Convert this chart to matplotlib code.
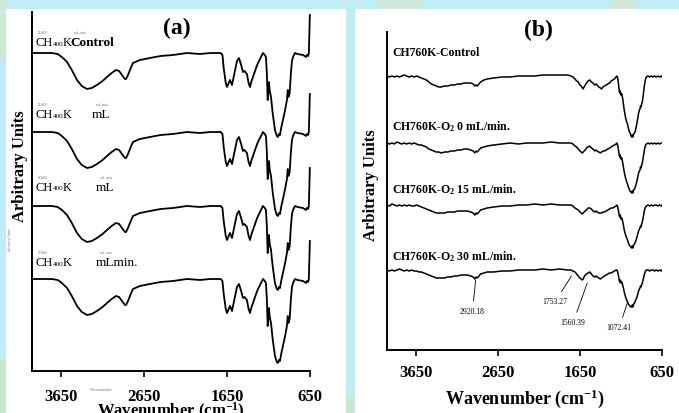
import numpy as np
import matplotlib.pyplot as plt
from matplotlib.patches import Rectangle

plt.rcParams['font.family'] = ['Liberation Serif', 'DejaVu Serif']
plt.rcParams['mathtext.fontset'] = 'custom'
plt.rcParams['mathtext.rm'] = 'Liberation Serif:bold'
plt.rcParams['mathtext.bf'] = 'Liberation Serif:bold'
plt.rcParams['mathtext.default'] = 'rm'

W, H = 679, 413

# ---- data ----
ticks = [3650, 2650, 1650, 650]

# (a) CH400K spectra, all four traces look the same; (wavenumber, depth below baseline)
spec_a = [(4000, 0), (3900, 0), (3760, 0), (3690, 1), (3640, 4), (3578, 9), (3520, 17),
          (3458, 27), (3400, 33), (3337, 36), (3280, 35), (3217, 32), (3150, 28), (3096, 24),
          (3040, 20), (2988, 17), (2950, 18), (2916, 22), (2880, 26), (2867, 26), (2843, 22),
          (2810, 15), (2783, 10), (2700, 7), (2578, 5), (2450, 3), (2301, 2), (2133, 0),
          (1976, 1), (1850, 0), (1771, 0), (1725, 0), (1705, 2), (1690, 15), (1665, 30),
          (1650, 34), (1630, 30), (1614, 27), (1600, 30), (1590, 32), (1560, 20), (1530, 8),
          (1506, 5), (1480, 12), (1458, 19), (1440, 18), (1420, 20), (1410, 21), (1390, 30),
          (1373, 34), (1355, 28), (1337, 24), (1300, 15), (1277, 10), (1240, 4), (1217, 0),
          (1195, 2), (1181, 4), (1170, 20), (1160, 47), (1152, 40), (1145, 29), (1135, 38),
          (1120, 44), (1100, 60), (1072, 77), (1050, 83), (1036, 84), (1024, 81), (1012, 82),
          (995, 74), (976, 67), (950, 57), (928, 47), (918, 37), (910, 44), (895, 40),
          (880, 20), (867, 8), (855, 4), (831, 0), (800, 1), (735, 2), (715, 3), (699, 4),
          (687, 2), (672, 3), (664, 0), (660, -12), (652, -38)]

# (b) CH760K spectra
control_b = [(4000, 0), (3970, 1), (3940, 0), (3910, 1), (3880, 0), (3850, 1), (3820, 0),
             (3790, -1), (3760, 0), (3730, 1), (3700, 0), (3670, 1), (3640, 0), (3610, 1),
             (3580, 2), (3550, 3), (3520, 4), (3490, 6), (3460, 8), (3430, 9), (3400, 10),
             (3370, 11), (3340, 11), (3300, 10), (3260, 10), (3220, 9), (3180, 9), (3140, 8),
             (3100, 8), (3060, 7), (3020, 7), (2980, 7), (2950, 8), (2930, 10), (2915, 9),
             (2900, 10), (2880, 8), (2860, 6), (2820, 4), (2780, 3), (2700, 2), (2600, 1),
             (2500, 1), (2400, 0), (2300, 0), (2200, 0), (2100, -1), (2000, -1), (1900, -1),
             (1800, -1), (1760, 0), (1735, 1), (1710, 3), (1690, 5), (1670, 6), (1650, 9),
             (1635, 10), (1620, 12), (1610, 13), (1600, 11), (1585, 9), (1570, 7), (1550, 5),
             (1530, 4), (1510, 6), (1490, 7), (1470, 9), (1455, 8), (1440, 9), (1420, 11),
             (1400, 12), (1385, 13), (1370, 11), (1350, 10), (1330, 9), (1310, 8), (1290, 7),
             (1270, 5), (1250, 4), (1230, 3), (1210, 1), (1200, 0), (1190, 2), (1180, 8),
             (1172, 14), (1165, 17), (1158, 15), (1150, 19), (1140, 18), (1130, 22), (1120, 28),
             (1110, 34), (1100, 39), (1090, 43), (1080, 46), (1070, 48), (1060, 52), (1050, 55),
             (1040, 57), (1030, 59), (1020, 61), (1012, 59), (1005, 61), (995, 58), (985, 57),
             (975, 55), (965, 51), (955, 47), (945, 42), (935, 37), (925, 34), (918, 33),
             (912, 30), (905, 31), (898, 28), (890, 26), (880, 20), (870, 13), (860, 7),
             (850, 3), (840, 1), (820, 0), (800, 1), (780, 0), (760, 1), (740, 0), (720, 1),
             (700, 0), (680, 1), (660, 0), (650, 1)]

o2_0_b = [(4000, 0), (3970, 1), (3940, 0), (3910, 1), (3880, -1), (3850, 0), (3820, 1),
          (3790, 0), (3760, 1), (3730, 0), (3700, 1), (3670, 0), (3640, 1), (3610, 2),
          (3580, 2), (3550, 3), (3520, 4), (3490, 6), (3460, 7), (3430, 8), (3400, 9),
          (3370, 9), (3340, 10), (3300, 9), (3260, 9), (3220, 8), (3180, 8), (3140, 7),
          (3100, 7), (3060, 6), (3020, 6), (2980, 7), (2950, 8), (2930, 10), (2915, 8),
          (2900, 9), (2880, 7), (2860, 5), (2820, 4), (2780, 3), (2700, 2), (2600, 1),
          (2500, 0), (2400, 1), (2300, 0), (2200, 0), (2100, 0), (2000, -1), (1900, 0),
          (1800, 0), (1760, 0), (1735, 1), (1710, 3), (1690, 4), (1670, 6), (1650, 8),
          (1635, 9), (1620, 10), (1610, 9), (1600, 8), (1585, 7), (1570, 5), (1550, 4),
          (1530, 3), (1510, 5), (1490, 6), (1470, 8), (1455, 7), (1440, 8), (1420, 9),
          (1400, 10), (1385, 9), (1370, 8), (1350, 8), (1330, 7), (1310, 6), (1290, 5),
          (1270, 4), (1250, 3), (1230, 2), (1210, 1), (1200, 0), (1190, 2), (1180, 7),
          (1172, 12), (1165, 14), (1158, 12), (1150, 16), (1140, 15), (1130, 19), (1120, 24),
          (1110, 29), (1100, 33), (1090, 36), (1080, 39), (1070, 41), (1060, 44), (1050, 46),
          (1040, 48), (1030, 49), (1020, 50), (1012, 48), (1005, 50), (995, 47), (985, 46),
          (975, 44), (965, 41), (955, 38), (945, 34), (935, 30), (925, 28), (918, 27),
          (912, 24), (905, 25), (898, 22), (890, 20), (880, 15), (870, 10), (860, 5),
          (850, 2), (840, 1), (820, 0), (800, 1), (780, 0), (760, 1), (740, 0), (720, 1),
          (700, 0), (680, 1), (660, 0), (650, 0)]

o2_15_b = [(4000, 0), (3970, 1), (3940, -1), (3910, 0), (3880, 1), (3850, 0), (3820, 1),
           (3790, 0), (3760, 1), (3730, 0), (3700, 1), (3670, 1), (3640, 0), (3610, 1),
           (3580, 2), (3550, 3), (3520, 4), (3490, 5), (3460, 6), (3430, 7), (3400, 8),
           (3370, 8), (3340, 8), (3300, 8), (3260, 7), (3220, 7), (3180, 7), (3140, 6),
           (3100, 6), (3060, 6), (3020, 6), (2980, 7), (2950, 8), (2930, 10), (2915, 8),
           (2900, 9), (2880, 7), (2860, 5), (2820, 4), (2780, 3), (2700, 2), (2600, 1),
           (2500, 1), (2400, 0), (2300, 0), (2200, -1), (2100, 0), (2000, -1), (1900, 0),
           (1800, 0), (1760, 0), (1735, 1), (1710, 3), (1690, 4), (1670, 5), (1650, 7),
           (1635, 8), (1620, 9), (1610, 8), (1600, 7), (1585, 6), (1570, 5), (1550, 3),
           (1530, 3), (1510, 4), (1490, 6), (1470, 7), (1455, 6), (1440, 7), (1420, 8),
           (1400, 8), (1385, 8), (1370, 7), (1350, 7), (1330, 6), (1310, 5), (1290, 4),
           (1270, 3), (1250, 3), (1230, 2), (1210, 1), (1200, 0), (1190, 2), (1180, 6),
           (1172, 10), (1165, 12), (1158, 10), (1150, 14), (1140, 13), (1130, 16), (1120, 20),
           (1110, 25), (1100, 28), (1090, 31), (1080, 33), (1070, 35), (1060, 38), (1050, 40),
           (1040, 41), (1030, 42), (1020, 43), (1012, 41), (1005, 43), (995, 40), (985, 39),
           (975, 37), (965, 35), (955, 32), (945, 29), (935, 26), (925, 24), (918, 23),
           (912, 21), (905, 22), (898, 19), (890, 17), (880, 13), (870, 8), (860, 4),
           (850, 2), (840, 1), (820, 0), (800, 1), (780, 0), (760, 1), (740, 0), (720, 0),
           (700, 1), (680, 0), (660, 1), (650, 0)]

o2_30_b = [(4000, 0), (3970, 1), (3940, 0), (3910, 1), (3880, 0), (3850, -1), (3820, 0),
           (3790, 1), (3760, 0), (3730, 1), (3700, 0), (3670, 1), (3640, 1), (3610, 2),
           (3580, 2), (3550, 3), (3520, 4), (3490, 5), (3460, 6), (3430, 7), (3400, 8),
           (3370, 8), (3340, 8), (3300, 8), (3260, 7), (3220, 7), (3180, 6), (3140, 6),
           (3100, 5), (3060, 5), (3020, 5), (2980, 6), (2950, 7), (2930, 9), (2915, 7),
           (2900, 8), (2880, 6), (2860, 4), (2820, 3), (2780, 2), (2700, 2), (2600, 1),
           (2500, 1), (2400, 0), (2300, 0), (2200, 0), (2100, -1), (2000, 0), (1900, -1),
           (1800, 0), (1760, 0), (1735, 1), (1710, 2), (1690, 4), (1670, 6), (1650, 8),
           (1635, 9), (1620, 10), (1610, 9), (1600, 7), (1585, 5), (1570, 4), (1550, 3),
           (1530, 2), (1510, 4), (1490, 6), (1470, 7), (1455, 6), (1440, 7), (1420, 8),
           (1400, 9), (1385, 8), (1370, 7), (1350, 6), (1330, 5), (1310, 4), (1290, 3),
           (1270, 3), (1250, 2), (1230, 1), (1210, 0), (1200, 0), (1190, 2), (1180, 6),
           (1172, 10), (1165, 12), (1158, 10), (1150, 13), (1140, 12), (1130, 15), (1120, 18),
           (1110, 22), (1100, 25), (1090, 28), (1080, 30), (1070, 32), (1060, 34), (1050, 35),
           (1040, 36), (1030, 37), (1020, 37), (1012, 35), (1005, 37), (995, 34), (985, 33),
           (975, 31), (965, 29), (955, 27), (945, 24), (935, 21), (925, 19), (918, 18),
           (912, 16), (905, 17), (898, 15), (890, 13), (880, 10), (870, 6), (860, 3),
           (850, 1), (840, 0), (820, 0), (800, 1), (780, 0), (760, 0), (740, 1), (720, 0),
           (700, 1), (680, 0), (660, 1), (650, 0)]

spectra_b = [control_b, o2_0_b, o2_15_b, o2_30_b]
names_b = ['CH760K-Control', 'CH760K-O$_2$ 0 mL/min.',
           'CH760K-O$_2$ 15 mL/min.', 'CH760K-O$_2$ 30 mL/min.']
peaks_b = [2920.18, 1753.27, 1560.39, 1072.41]

# vertical placing (px above the bottom spine)
offsets_a = [318, 239, 165, 92]
offsets_b = [274, 207, 145, 80]


def fx(px):
    return px / W


def fy(py):
    return 1 - py / H


fig = plt.figure(figsize=(W / 100, H / 100), dpi=100, facecolor='#c2ecf3')

# background panels / patches
for (x0, y0, x1, y1, c) in [(377, 0, 422, 9, '#cde9d9'), (612, 0, 636, 9, '#cfe8d6'),
                            (0, 0, 6, 60, '#cfe8d8'), (0, 360, 6, 413, '#cde6d2'),
                            (346, 395, 355, 413, '#cbe6d4')]:
    fig.add_artist(Rectangle((fx(x0), fy(y1)), (x1 - x0) / W, (y1 - y0) / H,
                             transform=fig.transFigure, color=c, lw=0, zorder=-2))
for (x0, x1) in [(6, 346), (355, 679)]:
    fig.add_artist(Rectangle((fx(x0), fy(413)), (x1 - x0) / W, (413 - 9) / H,
                             transform=fig.transFigure, color='white', lw=0, zorder=-1))

# ---- panel (a) ----
axa = fig.add_axes([fx(32), fy(371), 278 / W, 359 / H])
axa.patch.set_alpha(0)
wa, da = np.array(spec_a).T
for off in offsets_a:
    axa.plot(wa, off - da, color='black', lw=1.3, clip_on=False)
axa.set_xlim(4000, 650)
axa.set_ylim(0, 359)

# ---- panel (b) ----
axb = fig.add_axes([fx(387), fy(350), 275 / W, 318 / H])
axb.patch.set_alpha(0)
for spec, off in zip(spectra_b, offsets_b):
    wb, db = np.array(spec).T
    axb.plot(wb, off - db, color='black', lw=1.1)
axb.set_xlim(4000, 650)
axb.set_ylim(0, 318)

for ax, pad in [(axa, 9), (axb, 7)]:
    ax.spines['top'].set_visible(False)
    ax.spines['right'].set_visible(False)
    for s in ['left', 'bottom']:
        ax.spines[s].set_linewidth(1.4)
    ax.set_yticks([])
    ax.set_xticks(ticks)
    ax.set_xticklabels([str(t) for t in ticks], fontweight='bold', fontsize=12)
    ax.tick_params(axis='x', direction='out', length=4, width=1.2, pad=pad)

# titles
fig.text(fx(177), fy(28), '(a)', fontsize=17, fontweight='bold', ha='center', va='center')
fig.text(fx(538), fy(30), '(b)', fontsize=17, fontweight='bold', ha='center', va='center')

# axis labels
fig.text(fx(20), fy(166), 'Arbitrary Units', rotation=90, fontsize=12, fontweight='bold',
         ha='center', va='center')
fig.text(fx(10), fy(240), 'ArbitraryUnits', rotation=90, fontsize=3, color='#777777',
         ha='center', va='center')
fig.text(fx(371), fy(185), 'Arbitrary Units', rotation=90, fontsize=12, fontweight='bold',
         ha='center', va='center')
fig.text(fx(97), fy(401), 'Wavenumber (cm$^{-1}$)', fontsize=12, fontweight='bold',
         ha='left', va='top')
fig.text(fx(90), fy(390), 'Wavenumber', fontsize=3, color='#777777', ha='left', va='center')
fig.text(fx(525), fy(399), 'Wavenumber (cm$^{-1}$)', fontsize=13, fontweight='bold',
         ha='center', va='center')

# panel (a) curve labels (garbled as in the source)
rows_a = [43, 115, 188, 263]
tails_a = [('Control', 70, 'bold'), ('mL', 92, 'normal'), ('mL', 96, 'normal'),
           ('mLmin.', 96, 'normal')]
for y, (tail, tx, tw) in zip(rows_a, tails_a):
    fig.text(fx(36), fy(y), 'CH', fontsize=9, ha='left', va='center')
    fig.text(fx(53), fy(y + 1), '400', fontsize=5, ha='left', va='center')
    fig.text(fx(63), fy(y), 'K', fontsize=9, ha='left', va='center')
    fig.text(fx(tx), fy(y), tail, fontsize=9.5, fontweight=tw, ha='left', va='center')
    fig.text(fx(38), fy(y - 10), 'CH400', fontsize=2.5, color='#777777', ha='left', va='center')
    fig.text(fx(tx + 4), fy(y - 10), 'mL  min', fontsize=2.5, color='#777777',
             ha='left', va='center')

# panel (b) curve labels
rows_b = [53, 127, 190, 257]
for y, name in zip(rows_b, names_b):
    fig.text(fx(392), fy(y), name, fontsize=8.5, fontweight='bold', ha='left', va='center')

# peak annotations on the last trace
ann = [(2920.18, 70, 2960, 38), (1753.27, 74, 1954, 48),
       (1560.39, 67, 1735, 27), (1072.41, 47, 1174, 22)]
for (p, yl, tx, ty) in ann:
    axb.annotate(f'{p:.2f}', xy=(p, yl), xytext=(tx, ty), fontsize=5.5,
                 ha='center', va='center',
                 arrowprops=dict(arrowstyle='-', lw=0.6, shrinkA=3, shrinkB=0))

fig.savefig('out.png', dpi=100, facecolor=fig.get_facecolor())
